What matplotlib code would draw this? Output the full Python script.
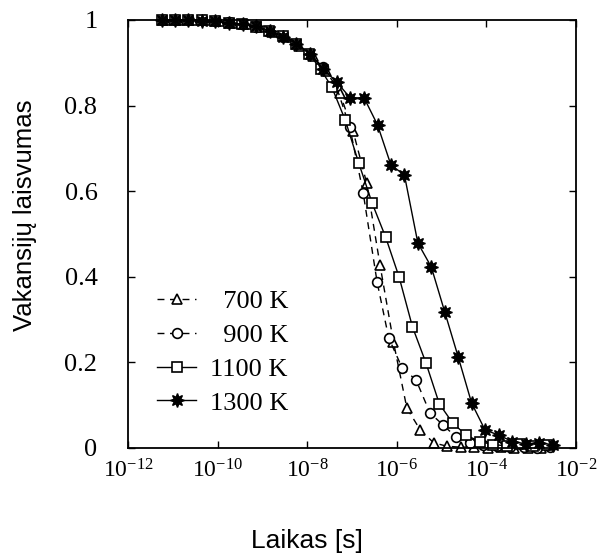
import numpy as np
import matplotlib
matplotlib.use("Agg")
import matplotlib.pyplot as plt

plt.rcParams['font.family'] = ['Liberation Serif', 'DejaVu Serif']
plt.rcParams['mathtext.fontset'] = 'custom'
plt.rcParams['mathtext.rm'] = 'Liberation Serif'

# laikas pateiktas kaip log10(t)
lt700 = [-11.175, -10.875, -10.575, -10.275, -9.975, -9.675, -9.375, -9.075, -8.775, -8.475,
         -8.175, -7.875, -7.575, -7.275, -6.975, -6.675, -6.375, -6.075, -5.775, -5.475,
         -5.175, -4.875, -4.575, -4.275, -3.975, -3.675, -3.375, -3.075, -2.775]
v700 = [1.0, 1.0, 1.0, 0.999, 0.997, 0.994, 0.99, 0.983, 0.973, 0.96,
        0.94, 0.915, 0.88, 0.83, 0.74, 0.62, 0.428, 0.248, 0.093, 0.042,
        0.012, 0.004, 0.002, 0.003, 0.001, 0.002, 0.0, 0.001, 0.0]

lt900 = [-11.25, -10.95, -10.65, -10.35, -10.05, -9.75, -9.45, -9.15, -8.85, -8.55,
         -8.25, -7.95, -7.65, -7.35, -7.05, -6.75, -6.44, -6.18, -5.88, -5.57,
         -5.26, -4.97, -4.67, -4.37, -4.07, -3.77, -3.47, -3.17, -2.87, -2.57]
v900 = [1.0, 1.0, 1.0, 1.0, 0.998, 0.995, 0.99, 0.985, 0.975, 0.962,
        0.945, 0.92, 0.89, 0.845, 0.75, 0.596, 0.388, 0.257, 0.187, 0.159,
        0.082, 0.054, 0.025, 0.012, 0.006, 0.004, 0.002, 0.003, 0.001, 0.002]

lt1100 = [-11.25, -10.95, -10.65, -10.35, -10.05, -9.75, -9.45, -9.15, -8.85, -8.55,
          -8.25, -7.95, -7.70, -7.45, -7.15, -6.85, -6.55, -6.25, -5.95, -5.65,
          -5.35, -5.05, -4.75, -4.45, -4.15, -3.85, -3.55, -3.25, -2.95, -2.65]
v1100 = [1.0, 1.0, 1.0, 0.999, 0.997, 0.994, 0.99, 0.984, 0.975, 0.962,
         0.945, 0.92, 0.885, 0.843, 0.766, 0.666, 0.572, 0.493, 0.40, 0.283,
         0.199, 0.103, 0.058, 0.03, 0.015, 0.008, 0.005, 0.01, 0.004, 0.006]

lt1300 = [-11.25, -10.95, -10.65, -10.35, -10.05, -9.74, -9.44, -9.14, -8.84, -8.54,
          -8.24, -7.94, -7.64, -7.34, -7.04, -6.73, -6.43, -6.13, -5.83, -5.53,
          -5.23, -4.93, -4.63, -4.33, -4.03, -3.72, -3.42, -3.12, -2.82, -2.52]
v1300 = [1.0, 1.0, 1.0, 0.998, 0.997, 0.993, 0.99, 0.985, 0.975, 0.96,
         0.945, 0.92, 0.885, 0.855, 0.818, 0.818, 0.755, 0.661, 0.638, 0.479,
         0.423, 0.318, 0.213, 0.105, 0.042, 0.03, 0.015, 0.01, 0.012, 0.008]

xticks = [1e-12, 1e-10, 1e-8, 1e-6, 1e-4, 1e-2]
yticks = [0, 0.2, 0.4, 0.6, 0.8, 1]
ylabels = ['0', '0.2', '0.4', '0.6', '0.8', '1']

fig = plt.figure(figsize=(6, 5.6), dpi=100)
ax = fig.add_axes([0.2133, 0.2, 0.7467, 0.7643])

dash = (0, (5, 4))
ax.plot(10**np.array(lt700), v700, color='black', lw=1, ls=dash, marker='^', ms=7,
        mfc='white', mec='black', mew=1.2, clip_on=False, label='\u2007700 K')
ax.plot(10**np.array(lt900), v900, color='black', lw=1, ls=dash, marker='o', ms=7,
        mfc='white', mec='black', mew=1.2, clip_on=False, label='\u2007900 K')
ax.plot(10**np.array(lt1100), v1100, color='black', lw=1, marker='s', ms=7,
        mfc='white', mec='black', mew=1.2, clip_on=False, label='1100 K')
ax.plot(10**np.array(lt1300), v1300, color='black', lw=1, marker=(8, 1, 0), ms=10,
        mfc='black', mec='black', mew=1, clip_on=False, label='1300 K')

ax.set_xscale('log')
ax.set_xlim(1e-12, 1e-2)
ax.set_ylim(0, 1)
ax.set_xticks(xticks)
ax.xaxis.set_minor_locator(matplotlib.ticker.NullLocator())
ax.set_yticks(yticks)
ax.set_yticklabels(ylabels)
ax.tick_params(direction='in', length=5, width=1, top=True, right=True, labelsize=17)
ax.tick_params(axis='y', labelsize=19, pad=22)
ax.tick_params(axis='x', pad=8)
for s in ax.spines.values():
    s.set_linewidth(1.3)

ax.set_xlabel('Laikas [s]', family='Liberation Sans', fontsize=19)
ax.set_ylabel('Vakansijų laisvumas', family='Liberation Sans', fontsize=18.5)
ax.xaxis.set_label_coords(0.40, -0.19)
ax.yaxis.set_label_coords(-0.203, 0.544)

ax.legend(loc='lower left', bbox_to_anchor=(0.023, 0.035), frameon=False, fontsize=19,
          handlelength=1.5, handletextpad=0.5, labelspacing=0.39, borderpad=0.2)

fig.savefig('out.png', dpi=100)
